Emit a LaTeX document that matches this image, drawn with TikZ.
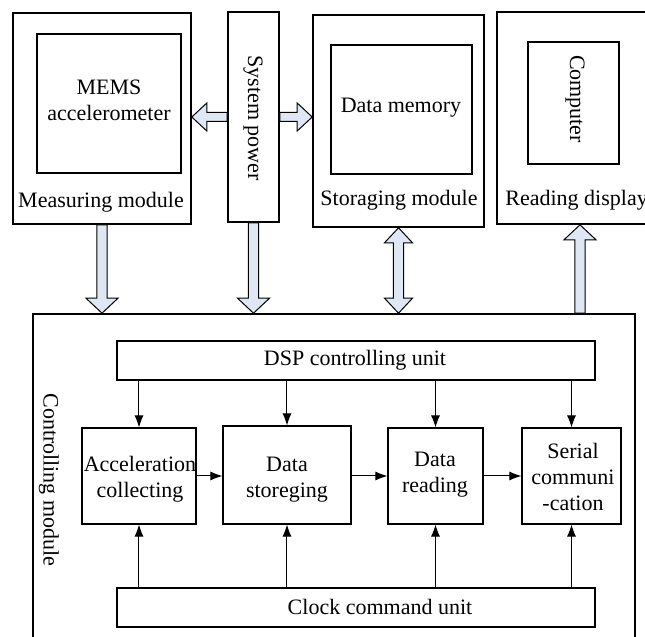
\documentclass[tikz,border=0pt]{standalone}
\usepackage{fontspec}
\setmainfont{Liberation Serif}
\usetikzlibrary{calc,fit,arrows.meta}
\definecolor{arrfill}{RGB}{223,231,244}
\tikzset{
 outer/.style={draw, line width=0.8pt, inner sep=0pt},
 innerbox/.style={draw, line width=0.6pt, inner sep=0pt},
 unitbox/.style={draw, line width=0.55pt, inner sep=0pt},
 txt/.style={font=\fontsize{11}{13}\selectfont, align=center, inner sep=0pt},
 barrow/.style={fill=arrfill, draw=black, line width=0.5pt, line join=miter},
 sig/.style={-{Latex[length=6pt,width=4.5pt]}, line width=0.5pt},
}
\newcommand\vbarrow[2]{%
 \filldraw[barrow] let \p1=(#1), \p2=(#2), \n1={(\y2-\y1)/abs(\y2-\y1)} in
 ({\x1-2.6pt},\y1) -- ({\x1-2.6pt},{\y2-(\n1)*7.5pt}) -- ({\x1-8pt},{\y2-(\n1)*7.5pt}) -- (\x1,\y2) -- ({\x1+8pt},{\y2-(\n1)*7.5pt}) -- ({\x1+2.6pt},{\y2-(\n1)*7.5pt}) -- ({\x1+2.6pt},\y1) -- cycle;}
\newcommand\hbarrow[2]{%
 \filldraw[barrow] let \p1=(#1), \p2=(#2), \n1={(\x2-\x1)/abs(\x2-\x1)} in
 (\x1,{\y1+2.25pt}) -- ({\x2-(\n1)*7.5pt},{\y1+2.25pt}) -- ({\x2-(\n1)*7.5pt},{\y1+7pt}) -- (\x2,\y1) -- ({\x2-(\n1)*7.5pt},{\y1-7pt}) -- ({\x2-(\n1)*7.5pt},{\y1-2.25pt}) -- (\x1,{\y1-2.25pt}) -- cycle;}
\newcommand\dvbarrow[2]{%
 \filldraw[barrow] let \p1=(#1), \p2=(#2), \n1={(\y2-\y1)/abs(\y2-\y1)} in
 (\x1,\y1) -- ({\x1+7pt},{\y1+(\n1)*7.5pt}) -- ({\x1+2.6pt},{\y1+(\n1)*7.5pt}) -- ({\x1+2.6pt},{\y2-(\n1)*7.5pt}) -- ({\x1+7pt},{\y2-(\n1)*7.5pt}) -- (\x1,\y2) -- ({\x1-7pt},{\y2-(\n1)*7.5pt}) -- ({\x1-2.6pt},{\y2-(\n1)*7.5pt}) -- ({\x1-2.6pt},{\y1+(\n1)*7.5pt}) -- ({\x1-7pt},{\y1+(\n1)*7.5pt}) -- cycle;}
\begin{document}
\begin{tikzpicture}[x=0.5pt,y=-0.5pt]
\useasboundingbox (0,0) rectangle (645,637);
\clip (0,0) rectangle (645,637);
% top row
\node[outer, fit={(13,13) (191,224)}] (meas) {};
\node[innerbox, fit={(37,34) (181,173)}] (mems) {};
\node[outer, fit={(228,12) (279,222)}] (sp) {};
\node[outer, fit={(313,15) (484,227)}] (stor) {};
\node[innerbox, fit={(331,45) (472,174)}] (dmem) {};
\node[outer, fit={(497,12) (663,224)}] (read) {};
\node[innerbox, fit={(528,42) (619,164)}] (comp) {};
% texts of top row
\node[txt] (memstxt) at (109,100) {MEMS\\accelerometer};
\node[txt] (meastxt) at (101,202) {Measuring module};
\node[txt, rotate=-90] (sptxt) at (253,118) {System power};
\node[txt] (dmemtxt) at (401,108) {Data memory};
\node[txt] (stortxt) at (399,200) {Storaging module};
\node[txt, anchor=west] (readtxt) at (505,200) {Reading display};
\node[txt, rotate=-90] (comptxt) at (575,99) {Computer};
% controlling module
\node[outer, fit={(33,314) (635,650)}] (ctrl) {};
\node[txt, rotate=-90] (ctrltxt) at (49,480) {Controlling module};
\node[unitbox, fit={(117,341) (595,380)}] (dsp) {};
\node[txt] (dsptxt) at (355,360) {DSP controlling unit};
\node[unitbox, fit={(117,588) (595,627)}] (clk) {};
\node[txt] (clktxt) at (380,607) {Clock command unit};
\node[unitbox, fit={(82,428) (196,524)}] (acc) {};
\node[txt] (acctxt) at (140,479) {Acceleration\\collecting};
\node[unitbox, fit={(223,426) (351,524)}] (dst) {};
\node[txt] (dsttxt) at (287,480) {Data\\storeging};
\node[unitbox, fit={(388,428) (483,524)}] (drd) {};
\node[txt] (drdtxt) at (435,475) {Data\\reading};
\node[unitbox, fit={(522,428) (621,524)}] (ser) {};
\node[txt] (sertxt) at (573,477) {Serial\\communi\\-cation};
% block arrows
\hbarrow{sp.west}{sp.west -| meas.east}
\hbarrow{sp.east}{sp.east -| stor.west}
\vbarrow{meas.south}{meas.south |- ctrl.north}
\vbarrow{sp.south}{sp.south |- ctrl.north}
\dvbarrow{stor.south}{stor.south |- ctrl.north}
\vbarrow{ctrl.north -| read.south}{read.south}
% signal arrows
\foreach \n in {acc,dst,drd,ser}{
  \draw[sig] (dsp.south -| \n.north) -- (\n.north);
  \draw[sig] (clk.north -| \n.south) -- (\n.south);
}
\draw[sig] (acc.east) -- (acc.east -| dst.west);
\draw[sig] (dst.east |- drd.west) -- (drd.west);
\draw[sig] (drd.east) -- (drd.east -| ser.west);
\end{tikzpicture}
\end{document}
